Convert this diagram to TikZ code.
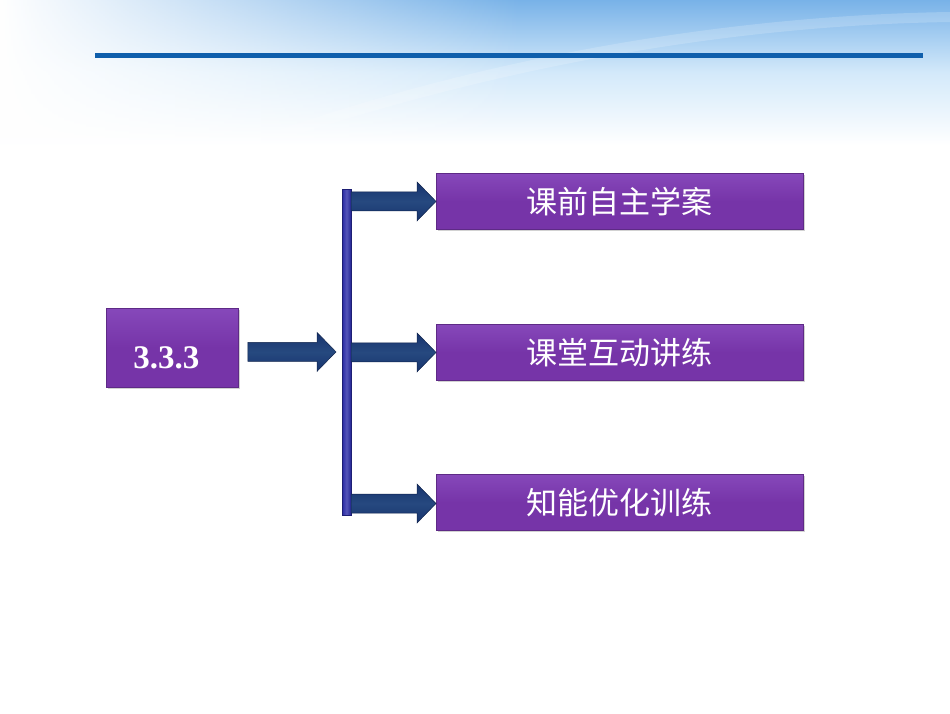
\documentclass[tikz,border=0pt]{standalone}
\usepackage{fontspec}
\setmainfont{Liberation Serif}
\newfontfamily\cjk{Noto Sans CJK SC}
\usetikzlibrary{calc,fadings,shadows}
\definecolor{boxpurple}{HTML}{7634A8}
\definecolor{boxlight}{HTML}{8648BA}
\definecolor{navy}{HTML}{17336E}
\definecolor{navylight}{HTML}{26497F}
\definecolor{barblue}{HTML}{2A2BA6}
\definecolor{linblue}{HTML}{0F5FAC}
\definecolor{skyblue}{HTML}{78B2E8}
\definecolor{skypale}{HTML}{D3E9FA}
\tikzset{
  purplebox/.style={draw=boxpurple!80!black, line width=0.8pt,
    top color=boxlight, bottom color=boxpurple, middle color=boxpurple,
    text=white, inner sep=0pt,
    drop shadow={shadow xshift=1.5pt, shadow yshift=-2pt, opacity=0.35}},
  cjklabel/.style={font=\cjk\fontsize{31}{36}\selectfont},
  numlabel/.style={font=\bfseries\fontsize{33}{38}\selectfont},
  arrowfill/.style={top color=navy, bottom color=navy, middle color=navylight,
    draw=navy!70!black, line width=0.5pt, line join=miter}
}
\newcommand\blockarrow[2]{%
  \path[arrowfill] let \p1=(#1), \p2=(#2) in
    (\x1,\y1+9.5) -- (\x2-19,\y1+9.5) -- (\x2-19,\y1+19.5) -- (\x2,\y1)
    -- (\x2-19,\y1-19.5) -- (\x2-19,\y1-9.5) -- (\x1,\y1-9.5) -- cycle;}
\begin{document}
\begin{tikzpicture}[x=1pt,y=-1pt]
\useasboundingbox (0,0) rectangle (950,713);
% background
\fill[white] (0,0) rectangle (950,713);
\fill[top color=skyblue, bottom color=white, middle color=skypale] (0,0) rectangle (950,145);
\fill[white, path fading=east] (0,0) rectangle (520,145);
\fill[white, opacity=0.18] (250,140) .. controls (500,50) and (750,15) .. (950,12)
  -- (950,22) .. controls (750,25) and (520,60) .. (280,140) -- cycle;
% top line
\fill[linblue] (95,53) rectangle (923,57.5);
% boxes
\node[purplebox, minimum width=132pt, minimum height=79pt, anchor=north west] (n0) at (106,308) {};
\node[numlabel, text=white] at ($(n0.center)+(-6,10)$) {3.3.3};
\node[purplebox, minimum width=367pt, minimum height=56pt, anchor=north west] (b1) at (436,173) {};
\node[purplebox, minimum width=367pt, minimum height=56pt, anchor=north west] (b2) at (436,324) {};
\node[purplebox, minimum width=367pt, minimum height=56pt, anchor=north west] (b3) at (436,474) {};
\node[cjklabel, text=white] at (b1.center) {课前自主学案};
\node[cjklabel, text=white] at (b2.center) {课堂互动讲练};
\node[cjklabel, text=white] at (b3.center) {知能优化训练};
% vertical bar
\node[draw=barblue!70!black, line width=0.5pt, left color=barblue, right color=barblue!90!black, middle color=barblue!80!white,
  minimum width=8.5pt, minimum height=326pt, inner sep=0pt, anchor=north west] (bar) at (342,189) {};
% arrows
\coordinate (a0) at ($(n0.east)+(9,4)$);
\coordinate (t0) at ($(bar.west |- a0)+(-6,0)$);
\blockarrow{a0}{t0}
\blockarrow{bar.east |- b1.west}{b1.west}
\blockarrow{bar.east |- b2.west}{b2.west}
\coordinate (a3) at ($(bar.south east)+(0,-12)$);
\blockarrow{a3}{a3 -| b3.west}
\end{tikzpicture}
\end{document}
